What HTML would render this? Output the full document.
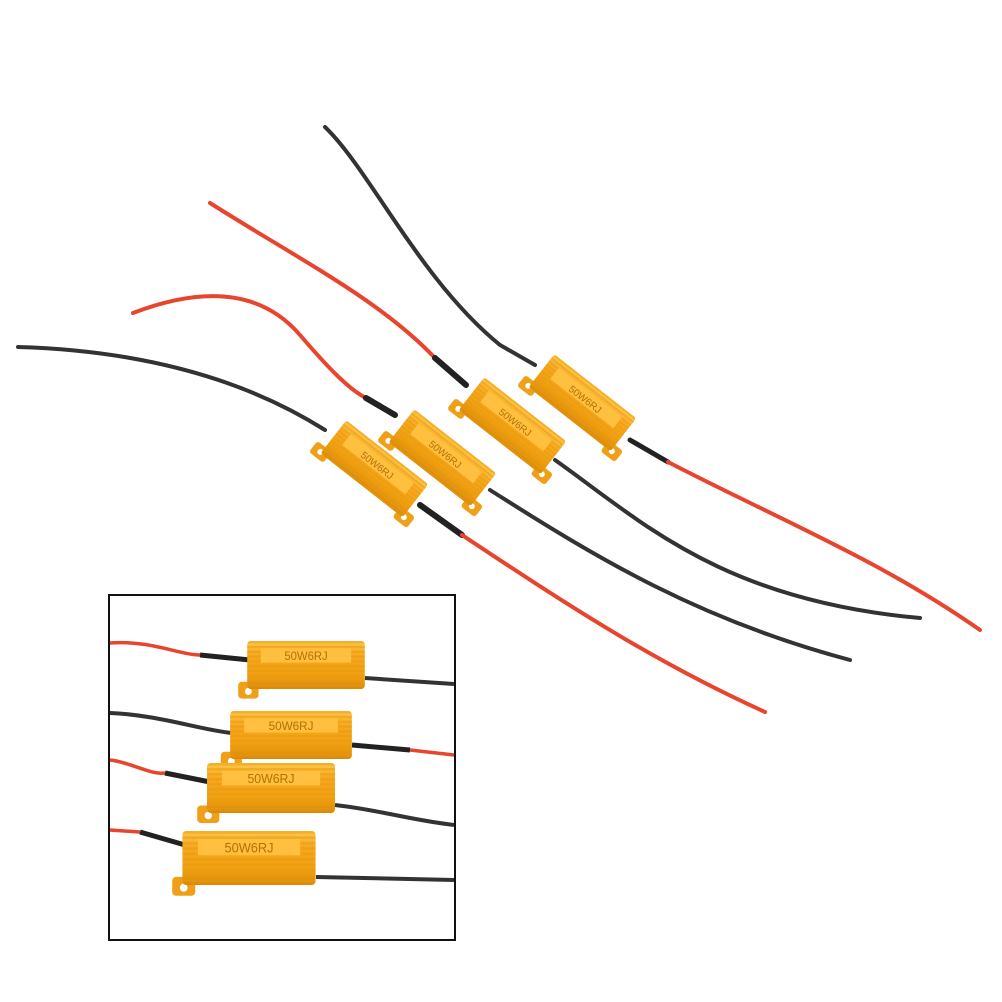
<!DOCTYPE html>
<html><head><style>html,body{margin:0;padding:0;background:#fff}svg{display:block}</style></head>
<body>
<svg width="1002" height="1002" viewBox="0 0 1002 1002" xmlns="http://www.w3.org/2000/svg">
<defs>
<linearGradient id="g" x1="0" y1="0" x2="0" y2="1">
<stop offset="0" stop-color="#ffc84a"/><stop offset="0.3" stop-color="#f7a820"/><stop offset="0.7" stop-color="#f0a010"/><stop offset="1" stop-color="#d98a08"/>
</linearGradient>
<pattern id="st" width="4" height="4" patternUnits="userSpaceOnUse"><rect width="4" height="2" fill="#e89a10" opacity="0.5"/></pattern>
<g id="res">
<rect x="-62" y="14" width="18" height="14" rx="3" fill="#f0a018"/>
<rect x="44" y="14" width="18" height="14" rx="3" fill="#f0a018"/>
<circle cx="-53" cy="21" r="3" fill="#fff"/><circle cx="53" cy="21" r="3" fill="#fff"/>
<rect x="-52" y="-20" width="104" height="42" rx="3" fill="url(#g)"/>
<rect x="-52" y="-20" width="104" height="42" rx="3" fill="url(#st)"/>
<rect x="-40" y="-12" width="80" height="14" fill="#ffc040"/>
<text x="0" y="0" font-family="Liberation Sans,sans-serif" font-size="10" fill="#b87000" text-anchor="middle">50W6RJ</text>
</g>
<g id="res2">
<rect x="-60" y="14" width="18" height="14" rx="3" fill="#f0a018"/>
<circle cx="-51" cy="22" r="3" fill="#fff"/>
<rect x="-52" y="-20" width="104" height="40" rx="3" fill="url(#g)"/>
<rect x="-52" y="-20" width="104" height="40" rx="3" fill="url(#st)"/>
<rect x="-40" y="-14" width="80" height="12" fill="#ffc040"/>
<text x="0" y="-4" font-family="Liberation Sans,sans-serif" font-size="10" fill="#b87000" text-anchor="middle">50W6RJ</text>
</g>
</defs>
<g fill="none" stroke-linecap="round">
<path d="M18,347 C120,350 230,370 325,430" stroke="#333" stroke-width="4"/>
<path d="M420,505 L462,535" stroke="#222" stroke-width="6"/>
<path d="M462,535 C560,600 650,660 765,712" stroke="#e8452e" stroke-width="4"/>
<path d="M133,313 C220,280 270,300 300,335 C330,370 350,390 366,398" stroke="#e8452e" stroke-width="4"/>
<path d="M366,398 L395,415" stroke="#222" stroke-width="6"/>
<path d="M490,490 C600,560 700,620 850,660" stroke="#333" stroke-width="4"/>
<path d="M210,203 C300,260 380,300 435,358" stroke="#e8452e" stroke-width="4"/>
<path d="M435,358 L466,385" stroke="#222" stroke-width="6"/>
<path d="M555,460 C640,520 720,600 920,618" stroke="#333" stroke-width="4"/>
<path d="M325,127 C370,170 420,280 500,345 L535,365" stroke="#333" stroke-width="4"/>
<path d="M630,440 L668,462" stroke="#222" stroke-width="5"/>
<path d="M668,462 C780,520 880,560 980,630" stroke="#e8452e" stroke-width="4"/>
</g>
<use href="#res" transform="translate(375,468) rotate(38)"/>
<use href="#res" transform="translate(443,457) rotate(38)"/>
<use href="#res" transform="translate(513,425) rotate(38)"/>
<use href="#res" transform="translate(583,402) rotate(38)"/>
<rect x="109" y="595" width="346" height="345" fill="#fff" stroke="#111" stroke-width="2"/>
<g fill="none" stroke-linecap="butt">
<path d="M110,643 C150,640 180,655 200,655" stroke="#e8452e" stroke-width="3.5"/>
<path d="M200,655 L250,660" stroke="#222" stroke-width="5"/>
<path d="M365,678 L454,684" stroke="#333" stroke-width="4"/>
<path d="M110,713 C160,715 200,730 232,733" stroke="#333" stroke-width="4"/>
<path d="M352,745 L410,750" stroke="#222" stroke-width="5"/>
<path d="M410,750 L454,755" stroke="#e8452e" stroke-width="3.5"/>
<path d="M110,760 C130,762 150,775 165,773" stroke="#e8452e" stroke-width="3.5"/>
<path d="M165,773 L210,782" stroke="#222" stroke-width="5"/>
<path d="M335,805 C380,810 410,820 454,825" stroke="#333" stroke-width="4"/>
<path d="M110,830 L140,832" stroke="#e8452e" stroke-width="3.5"/>
<path d="M140,832 L185,845" stroke="#222" stroke-width="5"/>
<path d="M316,877 L454,880" stroke="#333" stroke-width="4"/>
</g>
<use href="#res2" transform="translate(306,665) scale(1.13,1.2)"/>
<use href="#res2" transform="translate(291,735) scale(1.17,1.2)"/>
<use href="#res2" transform="translate(271,788) scale(1.23,1.25)"/>
<use href="#res2" transform="translate(249,858) scale(1.28,1.35)"/>
</svg>
</body></html>
